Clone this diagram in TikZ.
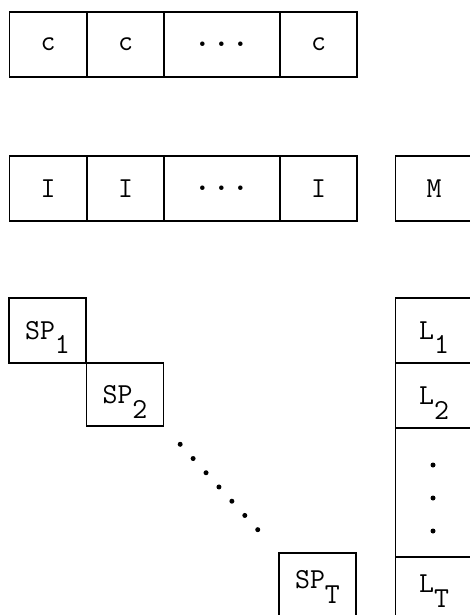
\documentclass[tikz,border=0pt]{standalone}
\usepackage{fontspec}
\usetikzlibrary{calc}
\newcommand{\lowsub}[2][14pt]{\raisebox{-#1}[0pt][0pt]{#2}}
\newcommand{\celldots}{{\fontsize{40}{40}\selectfont.\hspace{-1.5pt}.\hspace{-1.5pt}.}}
\begin{document}
\begin{tikzpicture}[x=1pt,y=-1pt]
	\useasboundingbox (0,0) rectangle (470,615);
	\fontsize{29}{30}\selectfont\ttfamily
	\def \crow{44.5}
	\def \irow{188.5}

	\tikzstyle{cell}=[rectangle,draw=black,line width=1.4pt,inner sep=0pt,minimum height=65pt]
	\tikzstyle{wide}=[cell,minimum width=116pt]
	\tikzstyle{narrow}=[cell,minimum width=77pt]
	\tikzstyle{lastrow}=[text height=13pt,text depth=7pt]
	\tikzstyle{dot}=[fill=black]

	% top row
	\node[narrow] 	(c1)	at (48,\crow)		{c};
	\node[narrow] 	(c2)	at (125.5,\crow)	{c};
	\node[wide] 	(c3)	at (222,\crow)		{\celldots};
	\node[narrow] 	(c4)	at (318.5,\crow)	{c};

	% second row
	\node[narrow] 	(i1)	at (48,\irow)		{I};
	\node[narrow] 	(i2)	at (125.5,\irow)	{I};
	\node[wide] 	(i3)	at (222,\irow)		{\celldots};
	\node[narrow] 	(i4)	at (318.5,\irow)	{I};
	\node[narrow] 	(m)	at (434,\irow)		{M};

	% diagonal blocks
	\node[narrow] 	(sp1)	at (47.5,330.5)		{SP\lowsub{1}};
	\node[narrow,minimum height=63pt] 	(sp2)	at (125,394.5)	{SP\lowsub[15pt]{2}};
	\node[narrow,lastrow] 	(spT)	at (317.5,585.5)	{SP\lowsub[15pt]{T}};

	% right column
	\node[narrow] 	(l1)	at (434,330.5)		{L\lowsub{1}};
	\node[narrow] 	(l2)	at (434,395.5)		{L\lowsub[15pt]{2}};
	\node[narrow,minimum height=129pt] 	(ldots)	at (434,492.5)	{};
	\node[narrow,lastrow] 	(lT)	at (434,589.5)		{L\lowsub[15pt]{T}};

	% dots
	\foreach \k in {0,...,6}
		\fill[dot] ($(sp2.south east)!0.14+0.1133*\k!(spT.north west)$) circle (2.5pt);
	\foreach \yy in {465,498,531}
		\fill[dot] (433,\yy) circle (2.5pt);
\end{tikzpicture}
\end{document}
